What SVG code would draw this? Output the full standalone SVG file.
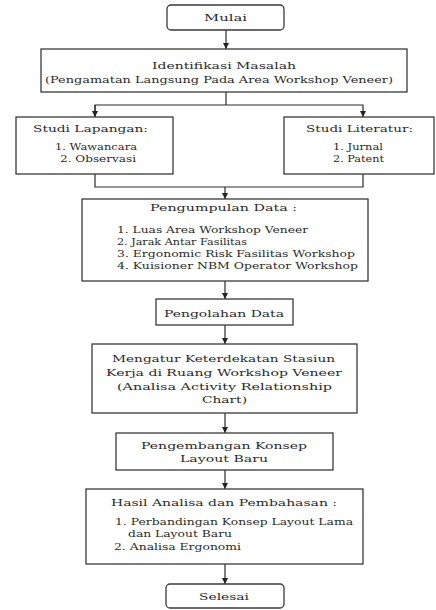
<svg xmlns="http://www.w3.org/2000/svg" width="436" height="610" viewBox="0 0 436 610">
<style>
.b{fill:#fff;stroke:#3a3a3a;stroke-width:1.3}
.t{font-family:"DejaVu Serif","Liberation Serif",serif;font-size:9.5px;fill:#2a2a2a}
.l{fill:none;stroke:#2a2a2a;stroke-width:1.2}
</style>
<defs>
<marker id="ah" viewBox="0 0 10 10" refX="10" refY="5" markerWidth="6" markerHeight="6" orient="auto" markerUnits="userSpaceOnUse">
<path d="M0,0 L10,5 L0,10 z" fill="#222"/>
</marker>
</defs>
<rect width="436" height="610" fill="#fff"/>
<g id="connectors">
<line class="l" x1="226" y1="30" x2="226" y2="49" marker-end="url(#ah)"/>
<polyline class="l" points="226,92 226,105"/>
<polyline class="l" points="95,117 95,105 363,105 363,117" marker-end="url(#ah)"/>
<line class="l" x1="95" y1="105" x2="95" y2="117" marker-end="url(#ah)"/>
<polyline class="l" points="95,174 95,187 363,187 363,174"/>
<line class="l" x1="225" y1="187" x2="225" y2="199" marker-end="url(#ah)"/>
<line class="l" x1="225" y1="281" x2="225" y2="299" marker-end="url(#ah)"/>
<line class="l" x1="225" y1="325" x2="225" y2="344" marker-end="url(#ah)"/>
<line class="l" x1="225" y1="413" x2="225" y2="433" marker-end="url(#ah)"/>
<line class="l" x1="225" y1="470" x2="225" y2="489" marker-end="url(#ah)"/>
<line class="l" x1="225" y1="564" x2="225" y2="584" marker-end="url(#ah)"/>
</g>
<g id="mulai">
<rect class="b" x="167" y="5" width="117" height="25" rx="4"/>
<text class="t" x="204" y="21" textLength="43" lengthAdjust="spacingAndGlyphs">Mulai</text>
</g>
<g id="identifikasi">
<rect class="b" x="41" y="49" width="366" height="43"/>
<text class="t" x="152" y="69" textLength="144" lengthAdjust="spacingAndGlyphs">Identifikasi Masalah</text>
<text class="t" x="45" y="83" textLength="348" lengthAdjust="spacingAndGlyphs">(Pengamatan Langsung Pada Area Workshop Veneer)</text>
</g>
<g id="studi-lapangan">
<rect class="b" x="16" y="117" width="157" height="57"/>
<text class="t" x="33" y="132" textLength="115" lengthAdjust="spacingAndGlyphs">Studi Lapangan:</text>
<text class="t" x="55" y="150" textLength="82" lengthAdjust="spacingAndGlyphs">1. Wawancara</text>
<text class="t" x="60" y="162" textLength="76" lengthAdjust="spacingAndGlyphs">2. Observasi</text>
</g>
<g id="studi-literatur">
<rect class="b" x="284" y="117" width="150" height="57"/>
<text class="t" x="306" y="132" textLength="107" lengthAdjust="spacingAndGlyphs">Studi Literatur:</text>
<text class="t" x="333" y="150" textLength="50" lengthAdjust="spacingAndGlyphs">1. Jurnal</text>
<text class="t" x="333" y="162" textLength="51" lengthAdjust="spacingAndGlyphs">2. Patent</text>
</g>
<g id="pengumpulan">
<rect class="b" x="82" y="199" width="286" height="82"/>
<text class="t" x="150" y="211" textLength="147" lengthAdjust="spacingAndGlyphs">Pengumpulan Data :</text>
<text class="t" x="117" y="233" textLength="191" lengthAdjust="spacingAndGlyphs">1. Luas Area Workshop Veneer</text>
<text class="t" x="117" y="245" textLength="130" lengthAdjust="spacingAndGlyphs">2. Jarak Antar Fasilitas</text>
<text class="t" x="117" y="257" textLength="238" lengthAdjust="spacingAndGlyphs">3. Ergonomic Risk Fasilitas Workshop</text>
<text class="t" x="117" y="269" textLength="241" lengthAdjust="spacingAndGlyphs">4. Kuisioner NBM Operator Workshop</text>
</g>
<g id="pengolahan">
<rect class="b" x="156" y="299" width="137" height="26"/>
<text class="t" x="164" y="317" textLength="120" lengthAdjust="spacingAndGlyphs">Pengolahan Data</text>
</g>
<g id="mengatur">
<rect class="b" x="92" y="344" width="265" height="69"/>
<text class="t" x="112" y="362" textLength="223" lengthAdjust="spacingAndGlyphs">Mengatur Keterdekatan Stasiun</text>
<text class="t" x="106" y="376" textLength="236" lengthAdjust="spacingAndGlyphs">Kerja di Ruang Workshop Veneer</text>
<text class="t" x="117" y="390" textLength="215" lengthAdjust="spacingAndGlyphs">(Analisa Activity Relationship</text>
<text class="t" x="202" y="403" textLength="45" lengthAdjust="spacingAndGlyphs">Chart)</text>
</g>
<g id="pengembangan">
<rect class="b" x="116" y="433" width="217" height="37"/>
<text class="t" x="141" y="449" textLength="166" lengthAdjust="spacingAndGlyphs">Pengembangan Konsep</text>
<text class="t" x="180" y="462" textLength="88" lengthAdjust="spacingAndGlyphs">Layout Baru</text>
</g>
<g id="hasil">
<rect class="b" x="86" y="489" width="277" height="75"/>
<text class="t" x="111" y="506" textLength="226" lengthAdjust="spacingAndGlyphs">Hasil Analisa dan Pembahasan :</text>
<text class="t" x="115" y="525" textLength="238" lengthAdjust="spacingAndGlyphs">1. Perbandingan Konsep Layout Lama</text>
<text class="t" x="128" y="537" textLength="104" lengthAdjust="spacingAndGlyphs">dan Layout Baru</text>
<text class="t" x="114" y="550" textLength="127" lengthAdjust="spacingAndGlyphs">2. Analisa Ergonomi</text>
</g>
<g id="selesai">
<rect class="b" x="166" y="584" width="118" height="24" rx="4"/>
<text class="t" x="199" y="600" textLength="50" lengthAdjust="spacingAndGlyphs">Selesai</text>
</g>
</svg>
